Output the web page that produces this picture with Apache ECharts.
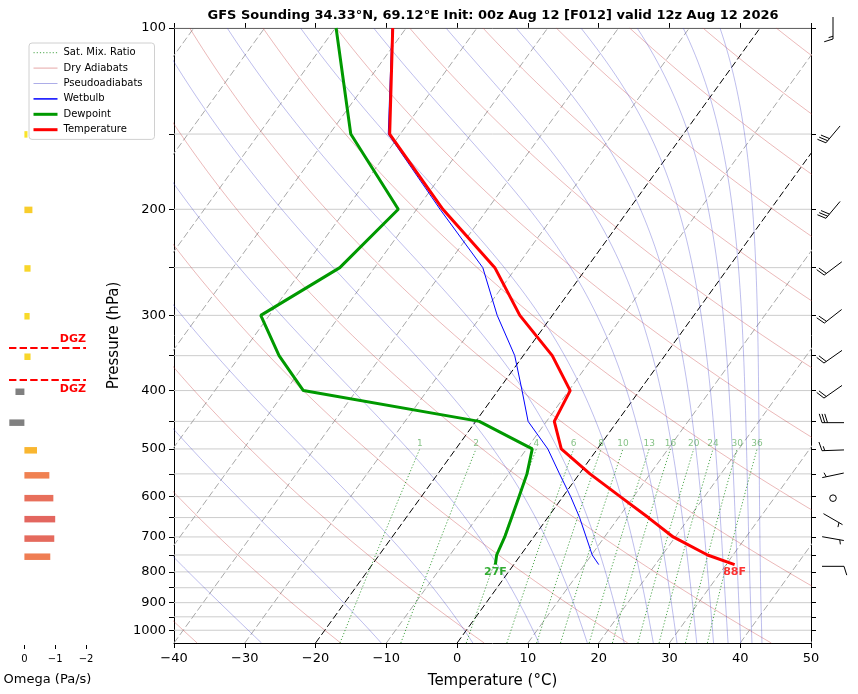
<!DOCTYPE html>
<html><head><meta charset="utf-8">
<script src="https://cdn.jsdelivr.net/npm/echarts@6/dist/echarts.min.js"></script>
<style>html,body{margin:0;padding:0;background:#fff}#chart{width:858px;height:694px}</style>
</head><body><div id="chart"></div>
<script>
// ---------------- data ----------------
const TITLE = 'GFS Sounding 34.33°N, 69.12°E Init: 00z Aug 12 [F012] valid 12z Aug 12 2026';
const pressureLevels = [100,150,200,250,300,350,400,450,500,550,600,650,700,750,778];
const temperatureC  = [-71.9,-61.5,-46.3,-33.0,-24.6,-15.9,-9.8,-8.9,-5.1,1.5,8.1,14.2,19.7,26.4,31.2];
const dewpointC     = [-79.9,-67.0,-52.6,-54.9,-61.2,-54.5,-47.5,-19.5,-9.2,-7.4,-6.2,-5.1,-4.1,-3.4,-2.6];
const wetbulbC      = [-72.0,-61.7,-46.7,-34.7,-27.8,-21.2,-16.6,-12.6,-7.0,-2.8,1.1,4.5,7.4,10.1,12.0];
const surfaceLabels = ['27F','88F'];

const omegaPressure = [150,200,250,300,350,400,450,500,550,600,650,700,750];
const omegaPaS      = [-0.10,-0.26,-0.20,-0.17,-0.20,0.29,0.49,-0.41,-0.81,-0.94,-1.00,-0.97,-0.84];
const dgzPressure   = [338.7,382.6];
const dgzLabel      = 'DGZ';

const windPressure  = [100,150,200,250,300,350,400,450,500,550,600,650,700,778];
const windDirection = [180,220,220,233,232,235,235,270,268,258,0,120,100,90];
const windSpeedKt   = [15,30,30,20,20,20,20,30,15,5,0,5,5,10];

const mixingRatioGkg = [1,2,4,6,8,10,13,16,20,24,30,36];
const dryAdiabatThetaC = [-40,-20,0,20,40,60,80,100,120,140,160,180,200,220];
const pseudoAdiabatThetaEC = [-30,-10,10,30,50,70,90,110,130,150,170,190,210,230];
const isothermC = [-100,-90,-80,-70,-60,-50,-40,-30,-10,10,20,30,40,50];
const highlightIsothermC = [-20,0];
const pressureTicks = [100,150,200,250,300,350,400,450,500,550,600,650,700,750,800,850,900,950,1000];
const pressureTickLabels = [100,200,300,400,500,600,700,800,900,1000];
const omegaTicks = [0,-1,-2];

// ---------------- skew-T helpers ----------------
const P_BOT = 1050, SKEW = 61.5;
const LP_BOT = Math.log10(P_BOT), LP_TOP = 2;
const lp = p => Math.log10(p);
const skewX = (t, p) => t + SKEW * (LP_BOT - Math.log10(p));
const minus = v => String(v).replace('-', '\u2212');
const curveP = [];
for (let i = 0; i <= 90; i++) curveP.push(Math.pow(10, LP_BOT - i * (LP_BOT - LP_TOP) / 90));

const es = tc => 6.112 * Math.exp(17.67 * tc / (tc + 243.5));
function thetaE(tk, p) {
  const e = es(tk - 273.15);
  if (e >= 0.9 * p) return 1e9;
  const r = 622 * e / (p - e);
  return tk * Math.pow(1000 / p, 0.2854 * (1 - 0.00028 * r)) * Math.exp((3.376 / tk - 0.00254) * r * (1 + 0.00081 * r));
}
function moistT(thE, p) {
  let lo = 120, hi = 345;
  for (let i = 0; i < 60; i++) { const m = (lo + hi) / 2; if (thetaE(m, p) > thE) hi = m; else lo = m; }
  return (lo + hi) / 2 - 273.15;
}
function mixT(w, p) { const q = w / 1000; const e = q * p / (0.622 + q); const l = Math.log(e / 6.112); return 243.5 * l / (17.67 - l); }

function bgLine(name, pts, style, z) {
  return { type: 'line', name, xAxisIndex: 0, yAxisIndex: 0, data: pts, showSymbol: false, symbol: 'none',
    lineStyle: style, itemStyle: { color: style.color }, silent: true, z, clip: true, animation: false };
}

const series = [];
// horizontal grid
pressureTicks.forEach(p => series.push(bgLine('_grid', [[-40, lp(p)], [50, lp(p)]], { color: '#cccccc', width: 1 }, 1)));
// isotherms
isothermC.forEach(t => series.push(bgLine('_iso', [[skewX(t, P_BOT), LP_BOT], [skewX(t, 100), LP_TOP]], { color: '#a8a8a8', width: 1, type: [7, 3] }, 2)));
highlightIsothermC.forEach(t => series.push(bgLine('_iso0', [[skewX(t, P_BOT), LP_BOT], [skewX(t, 100), LP_TOP]], { color: '#000', width: 1, type: [7, 3] }, 2)));
// dry adiabats
dryAdiabatThetaC.forEach(th => series.push(bgLine('Dry Adiabats',
  curveP.map(p => [skewX((th + 273.15) * Math.pow(p / 1000, 0.2857) - 273.15, p), lp(p)]),
  { color: 'rgba(200,60,60,0.45)', width: 0.8 }, 2)));
// pseudoadiabats
pseudoAdiabatThetaEC.forEach(th => series.push(bgLine('Pseudoadiabats',
  curveP.map(p => [skewX(moistT(th + 273.15, p), p), lp(p)]),
  { color: 'rgba(60,60,200,0.42)', width: 0.8 }, 2)));
// mixing ratio lines
const mixP = curveP.filter(p => p >= 499.9);
mixingRatioGkg.forEach(w => series.push(bgLine('Sat. Mix. Ratio',
  mixP.map(p => [skewX(mixT(w, p), p), lp(p)]).concat([[skewX(mixT(w, 500), 500), lp(500)]]),
  { color: 'rgba(0,128,0,0.7)', width: 1, type: [1.2, 2] }, 2)));
series.push({ type: 'scatter', xAxisIndex: 0, yAxisIndex: 0, silent: true, symbolSize: 0, animation: false, z: 3,
  data: mixingRatioGkg.map(w => ({ value: [skewX(mixT(w, 500), 500), lp(500)], label: { formatter: String(w) } })),
  label: { show: true, position: 'top', distance: 1, fontSize: 9, color: 'rgba(0,128,0,0.6)' } });

// profiles
const prof = arr => pressureLevels.map((p, i) => [skewX(arr[i], p), lp(p)]);
series.push(bgLine('Wetbulb', prof(wetbulbC), { color: '#0000ff', width: 1 }, 4));
series.push(bgLine('Dewpoint', prof(dewpointC), { color: '#009900', width: 3 }, 5));
series.push(bgLine('Temperature', prof(temperatureC), { color: '#ff0000', width: 3 }, 5));
const last = pressureLevels.length - 1, pS = pressureLevels[last];
series.push({ type: 'scatter', xAxisIndex: 0, yAxisIndex: 0, silent: true, symbolSize: 0, animation: false, z: 6,
  data: [
    { value: [skewX(dewpointC[last], pS), lp(pS)], label: { formatter: surfaceLabels[0], color: '#009900' } },
    { value: [skewX(temperatureC[last], pS), lp(pS)], label: { formatter: surfaceLabels[1], color: '#ff0000' } }
  ],
  label: { show: true, position: 'bottom', distance: 2, fontSize: 11, fontWeight: 'bold' } });

// omega bars
const omegaStops = [[0, [250, 240, 40]], [0.2, [248, 214, 42]], [0.42, [249, 180, 48]], [0.84, [239, 125, 83]], [1.0, [227, 102, 95]]];
function omegaColor(w) {
  if (w > 0) return '#808080';
  const m = Math.min(1, -w);
  for (let i = 1; i < omegaStops.length; i++) {
    if (m <= omegaStops[i][0]) {
      const a = omegaStops[i - 1], b = omegaStops[i], f = (m - a[0]) / (b[0] - a[0]);
      const c = a[1].map((v, k) => Math.round(v + f * (b[1][k] - v)));
      return 'rgb(' + c.join(',') + ')';
    }
  }
  return 'rgb(227,102,95)';
}
series.push({ type: 'custom', xAxisIndex: 2, yAxisIndex: 2, silent: true, animation: false, z: 3,
  data: omegaPressure.map((p, i) => [omegaPaS[i], lp(p)]),
  renderItem: (params, api) => {
    const a = api.coord([0, api.value(1)]), b = api.coord([api.value(0), api.value(1)]);
    const h = 6.5;
    return { type: 'rect', shape: { x: Math.min(a[0], b[0]), y: a[1] - h / 2, width: Math.abs(b[0] - a[0]), height: h },
      style: { fill: omegaColor(omegaPaS[params.dataIndex]) } };
  } });
// DGZ lines and labels
dgzPressure.forEach(p => series.push({ type: 'line', xAxisIndex: 2, yAxisIndex: 2, data: [[0.5, lp(p)], [-2, lp(p)]],
  showSymbol: false, symbol: 'none', silent: true, animation: false, z: 4, lineStyle: { color: '#ff0000', width: 2, type: [7.4, 3.2] } }));
series.push({ type: 'custom', xAxisIndex: 2, yAxisIndex: 2, silent: true, animation: false, z: 5,
  data: dgzPressure.map(p => [-2, lp(p)]),
  renderItem: (params, api) => {
    const c = api.coord([api.value(0), api.value(1)]);
    const up = params.dataIndex === 0;
    return { type: 'text', x: c[0], y: up ? c[1] - 3 : c[1] + 4,
      style: { text: dgzLabel, fill: '#ff0000', font: 'bold 11px "DejaVu Sans"', textAlign: 'right', textVerticalAlign: up ? 'bottom' : 'top' } };
  } });

// wind barbs
function barbChildren(cx, cy, dir, spd) {
  const L = 22, H = 0.4 * L, W = 0.25 * L, S = 0.125 * L;
  const st = { stroke: '#000', lineWidth: 1, fill: null };
  let s = Math.round(spd / 5) * 5;
  if (s < 5) return [{ type: 'circle', shape: { cx, cy, r: 0.15 * L }, style: st }];
  const rad = dir * Math.PI / 180, ux = Math.sin(rad), uy = -Math.cos(rad), bx = -uy, by = ux;
  const tip = [cx - ux * L / 2, cy - uy * L / 2];
  const P = o => [tip[0] + ux * o, tip[1] + uy * o];
  const ch = [{ type: 'line', shape: { x1: tip[0], y1: tip[1], x2: tip[0] + ux * L, y2: tip[1] + uy * L }, style: st }];
  const nf = Math.floor(s / 50); s -= nf * 50;
  const nb = Math.floor(s / 10); s -= nb * 10;
  const half = s >= 5;
  let off = L;
  for (let i = 0; i < nf; i++) {
    if (off !== L) off += S / 2;
    const a = P(off), m = P(off - W / 2), c = P(off - W);
    ch.push({ type: 'polygon', shape: { points: [a, [m[0] + bx * H, m[1] + by * H], c] }, style: { fill: '#000', stroke: '#000', lineWidth: 1 } });
    off -= W + S;
  }
  for (let i = 0; i < nb; i++) {
    const a = P(off), m = P(off + W / 2);
    ch.push({ type: 'line', shape: { x1: a[0], y1: a[1], x2: m[0] + bx * H, y2: m[1] + by * H }, style: st });
    off -= S;
  }
  if (half) {
    if (off === L) off -= 1.5 * S;
    const a = P(off), m = P(off + W / 4);
    ch.push({ type: 'line', shape: { x1: a[0], y1: a[1], x2: m[0] + bx * H / 2, y2: m[1] + by * H / 2 }, style: st });
  }
  return ch;
}
series.push({ type: 'custom', xAxisIndex: 3, yAxisIndex: 3, silent: true, animation: false, z: 5,
  data: windPressure.map(p => [0.5, lp(p)]),
  renderItem: (params, api) => {
    const c = api.coord([api.value(0), api.value(1)]);
    const i = params.dataIndex;
    return { type: 'group', children: barbChildren(c[0], c[1], windDirection[i], windSpeedKt[i]) };
  } });

const axLine = { show: true, onZero: false, lineStyle: { color: '#000', width: 1 } };
const yBase = { type: 'value', min: LP_TOP, max: LP_BOT, inverse: true, splitLine: { show: false } };
const hid = { opacity: 0 };
const option = {
  animation: false,
  textStyle: { fontFamily: 'DejaVu Sans' },
  graphic: [{ type: 'text', x: 493, y: 16, style: { text: TITLE, font: 'bold 13px "DejaVu Sans"', fill: '#000', textAlign: 'center', textVerticalAlign: 'middle' } }],
  legend: {
    data: [
      { name: 'Sat. Mix. Ratio', lineStyle: { width: 1 }, itemStyle: hid },
      { name: 'Dry Adiabats', lineStyle: { width: 1 }, itemStyle: hid },
      { name: 'Pseudoadiabats', lineStyle: { width: 1 }, itemStyle: hid },
      { name: 'Wetbulb', lineStyle: { width: 1.5 }, itemStyle: hid },
      { name: 'Dewpoint', lineStyle: { width: 3 }, itemStyle: hid },
      { name: 'Temperature', lineStyle: { width: 3 }, itemStyle: hid }
    ],
    itemStyle: hid,
    orient: 'vertical', left: 29, top: 43, itemWidth: 24, itemHeight: 12, itemGap: 0,
    padding: [2, 12, 2, 3], backgroundColor: '#fff', borderColor: '#d0d0d0', borderWidth: 1, borderRadius: 3,
    textStyle: { fontSize: 10, color: '#000', padding: [0, 0, 0, 1], lineHeight: 15.4 }, selectedMode: false, z: 10
  },
  grid: [
    { left: 174, top: 28, width: 637, height: 617 },
    { left: 9, top: 28, width: 77, height: 617 },
    { left: 812, top: 28, width: 42, height: 617 }
  ],
  xAxis: [
    { gridIndex: 0, type: 'value', min: -40, max: 50, interval: 10, position: 'bottom', axisLine: axLine,
      axisTick: { show: true, length: 5, lineStyle: { color: '#000' } },
      axisLabel: { fontSize: 13, color: '#000', margin: 9, formatter: minus }, splitLine: { show: false },
      name: 'Temperature (°C)', nameLocation: 'middle', nameGap: 31, nameTextStyle: { fontSize: 15, color: '#000' } },
    { gridIndex: 0, type: 'value', min: -40, max: 50, interval: 10, position: 'top', axisLine: axLine,
      axisTick: { show: true, length: 5, lineStyle: { color: '#000' } }, axisLabel: { show: false }, splitLine: { show: false } },
    { gridIndex: 1, type: 'value', min: -2, max: 0.5, inverse: true, axisLine: { show: false },
      axisTick: { show: true, length: 4, customValues: omegaTicks, lineStyle: { color: '#000' } },
      axisLabel: { customValues: omegaTicks, fontSize: 10, color: '#000', margin: 9, formatter: minus }, splitLine: { show: false },
      name: 'Omega (Pa/s)', nameLocation: 'middle', nameGap: 28, nameTextStyle: { fontSize: 13, color: '#000' } },
    { gridIndex: 2, type: 'value', min: 0, max: 1, show: false, splitLine: { show: false } }
  ],
  yAxis: [
    Object.assign({}, yBase, { gridIndex: 0, position: 'left', axisLine: axLine,
      axisTick: { show: true, length: 5, customValues: pressureTicks.map(lp), lineStyle: { color: '#000' } },
      axisLabel: { customValues: pressureTickLabels.map(lp), formatter: v => String(Math.round(Math.pow(10, v))), fontSize: 13, color: '#000', margin: 8 },
      name: 'Pressure (hPa)', nameLocation: 'middle', nameGap: 47, nameRotate: 90, nameTextStyle: { fontSize: 15, color: '#000' } }),
    Object.assign({}, yBase, { gridIndex: 0, position: 'right', axisLine: axLine,
      axisTick: { show: true, length: 5, customValues: pressureTicks.map(lp), lineStyle: { color: '#000' } }, axisLabel: { show: false } }),
    Object.assign({}, yBase, { gridIndex: 1, show: false }),
    Object.assign({}, yBase, { gridIndex: 2, show: false })
  ],
  series
};
const chart = echarts.init(document.getElementById('chart'), null, { renderer: 'canvas' });
chart.setOption(option);
</script></body></html>
